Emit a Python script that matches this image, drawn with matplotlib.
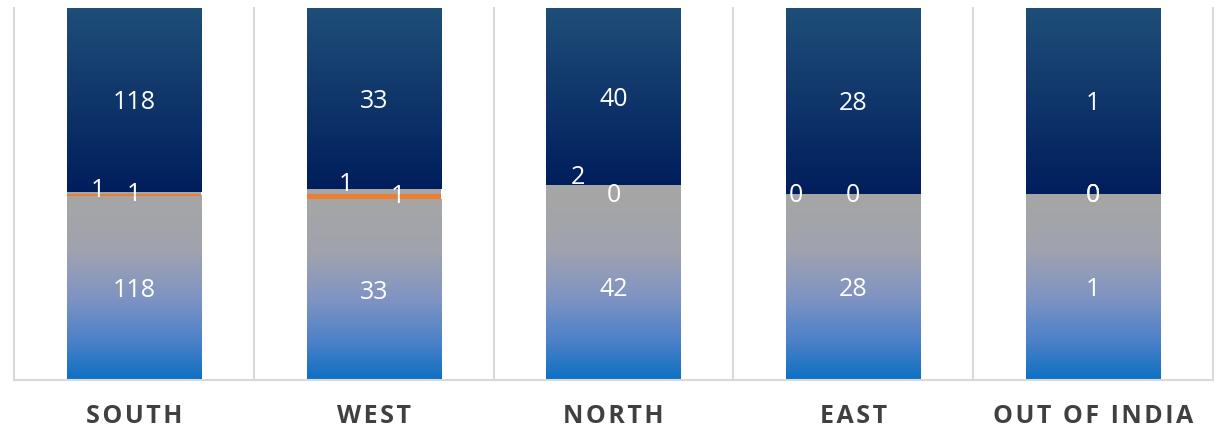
import matplotlib
matplotlib.use("Agg")
import matplotlib.pyplot as plt
import numpy as np
from matplotlib.colors import to_rgb

categories = ["SOUTH", "WEST", "NORTH", "EAST", "OUT OF INDIA"]
bottom_vals = [118, 33, 42, 28, 1]
orange_vals = [1, 1, 0, 0, 0]
gray_vals = [1, 1, 2, 0, 0]
top_vals = [118, 33, 40, 28, 1]

# label nudges in pixels (the original labels were moved by hand)
gray_dx = [-36, -28, -36, -57, 0]
gray_dy = [3, 7, 12, -2, -2]
orange_dx = [0, 24, 0, 0, 0]
orange_dy = [0, 0, -2, -2, -2]

BAR_W = 0.56
GRID = "#D9D9D9"
ORANGE = "#ED7D31"
GRAY = "#A6A6A6"
FONT = ["Open Sans", "DejaVu Sans"]

# gradient stops, top -> bottom
BOTTOM_STOPS = [(0.0, "#A6A6A6"), (0.3, "#A0A3AE"), (0.55, "#8094C2"),
                (0.8, "#4A80C8"), (1.0, "#0D70C2")]
TOP_STOPS = [(0.0, "#1F4E79"), (1.0, "#001E5C")]

plt.rcParams["font.family"] = FONT

fig = plt.figure(figsize=(12.17, 4.33), dpi=100)
ax = fig.add_axes([14 / 1217, 53 / 433, 1199 / 1217, 372 / 433])

x = np.arange(len(categories))
totals = np.array(bottom_vals) + np.array(orange_vals) + np.array(gray_vals) + np.array(top_vals)
pb = np.array(bottom_vals) / totals * 100
po = np.array(orange_vals) / totals * 100
pg = np.array(gray_vals) / totals * 100
pt = np.array(top_vals) / totals * 100


def gradient(xc, y0, y1, stops):
    if y1 - y0 <= 0:
        return
    t = np.linspace(0, 1, 256)
    pos = [s[0] for s in stops]
    cols = np.array([to_rgb(s[1]) for s in stops])
    img = np.stack([np.interp(t, pos, cols[:, k]) for k in range(3)], axis=1)[:, None, :]
    ax.imshow(img, extent=(xc - BAR_W / 2, xc + BAR_W / 2, y0, y1),
              origin="upper", aspect="auto", zorder=2, interpolation="bilinear")


for i in range(len(categories)):
    b1 = pb[i]
    gradient(x[i], 0, b1, BOTTOM_STOPS)
    if po[i] > 0:
        ax.bar(x[i], po[i], bottom=b1, width=BAR_W, color=ORANGE, zorder=2, linewidth=0)
    if pg[i] > 0:
        ax.bar(x[i], pg[i], bottom=b1 + po[i], width=BAR_W, color=GRAY, zorder=2, linewidth=0)
    t0 = b1 + po[i] + pg[i]
    gradient(x[i], t0, t0 + pt[i], TOP_STOPS)

    lab = dict(color="white", fontsize=18, ha="center", va="center",
               textcoords="offset points", zorder=5)
    ax.annotate(str(bottom_vals[i]), (x[i], pb[i] / 2), xytext=(0, -2), **lab)
    ax.annotate(str(top_vals[i]), (x[i], t0 + pt[i] / 2), xytext=(0, -2), **lab)
    ax.annotate(str(gray_vals[i]), (x[i], b1 + po[i] + pg[i] / 2),
                xytext=(gray_dx[i] * 0.72, gray_dy[i] * 0.72), **lab)
    ax.annotate(str(orange_vals[i]), (x[i], b1 + po[i] / 2),
                xytext=(orange_dx[i] * 0.72, orange_dy[i] * 0.72), **lab)

for b in np.arange(-0.5, len(categories), 1.0):
    ax.axvline(b, color=GRID, linewidth=1.5, zorder=1, clip_on=False)
ax.axhline(0, color=GRID, linewidth=1.5, zorder=3, clip_on=False)

ax.set_xlim(-0.5, len(categories) - 0.5)
ax.set_ylim(0, 100)
for s in ax.spines.values():
    s.set_visible(False)

spaced = ["\u200a".join(c) for c in categories]
ax.set_xticks(x)
ax.set_xticklabels(spaced, fontsize=18, fontweight="bold", color="#404040")
ax.tick_params(axis="x", length=0, pad=17)
ax.set_yticks([])

fig.savefig("out.png", dpi=100)
